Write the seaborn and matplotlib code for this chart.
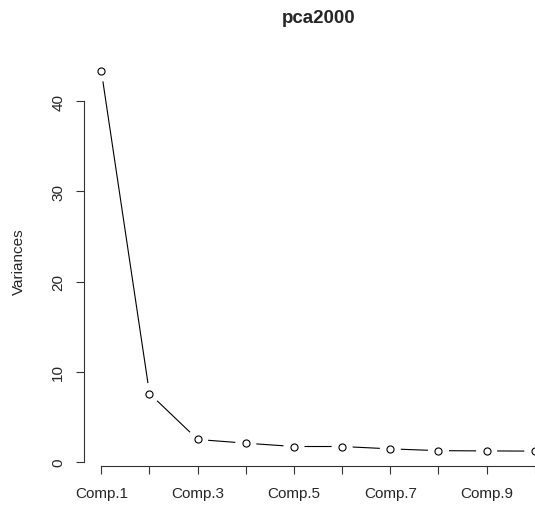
import numpy as np
import matplotlib
matplotlib.use("Agg")
import matplotlib.pyplot as plt
import seaborn as sns

# screeplot values
components = ["Comp.1", "Comp.2", "Comp.3", "Comp.4", "Comp.5",
              "Comp.6", "Comp.7", "Comp.8", "Comp.9", "Comp.10"]
variances = [43.37, 7.59, 2.49, 2.08, 1.71, 1.71, 1.45, 1.25, 1.22, 1.20]
y_ticks = [0, 10, 20, 30, 40]

sns.set_style("white")
plt.rcParams['font.family'] = ['Liberation Sans', 'DejaVu Sans']

fig = plt.figure(figsize=(5.35, 5.1), dpi=100)
# plot region runs past the right edge, like the cropped R device
ax = fig.add_axes([0.157, 0.0837, 0.875, 0.805])

pos = np.arange(1, len(components) + 1)

sns.lineplot(x=pos, y=variances, ax=ax, color="black", linewidth=0.8)
# white mask so the line stops short of each point (R type="b")
sns.scatterplot(x=pos, y=variances, ax=ax, s=230, color="white",
                edgecolor="none", zorder=3)
sns.scatterplot(x=pos, y=variances, ax=ax, s=26, facecolor="white",
                edgecolor="black", linewidth=0.8, zorder=4)

rng = max(variances) - min(variances)
ax.set_xlim(1 - 0.36, len(components) + 0.36)
ax.set_ylim(min(variances) - 0.04 * rng, max(variances) + 0.04 * rng)

ax.set_xticks(pos)
ax.set_xticklabels([c if i % 2 == 0 else "" for i, c in enumerate(components)],
                   fontsize=11)
ax.set_yticks(y_ticks)
ax.set_yticklabels([str(t) for t in y_ticks], fontsize=11, rotation=90,
                   va="center")

for s in ["top", "right"]:
    ax.spines[s].set_visible(False)
ax.spines["left"].set_bounds(y_ticks[0], y_ticks[-1])
ax.spines["bottom"].set_bounds(pos[0], pos[-1])
for s in ["left", "bottom"]:
    ax.spines[s].set_color("#333333")
    ax.spines[s].set_linewidth(0.8)
ax.tick_params(axis="both", direction="out", length=6, width=0.8,
               color="#333333", left=True, bottom=True)
ax.tick_params(axis="x", pad=8)
ax.tick_params(axis="y", pad=7.5)

ax.set_ylabel("Variances", fontsize=11, labelpad=18)
fig.text(0.595, 0.963, "pca2000", fontsize=13.5, fontweight="bold",
         ha="center", va="center")

fig.savefig("out.png", dpi=100)
